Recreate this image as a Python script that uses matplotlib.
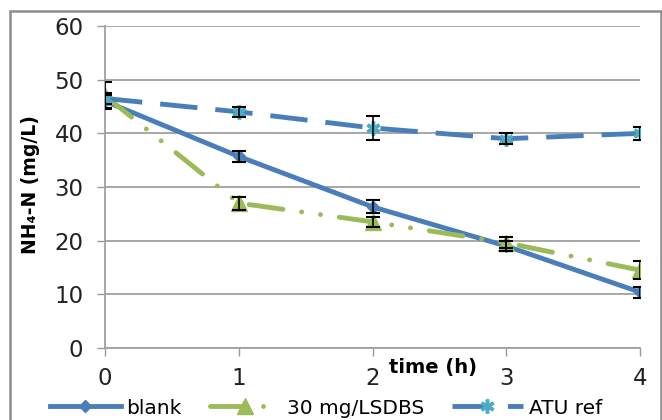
import matplotlib.pyplot as plt
from matplotlib.patches import Rectangle

# data
time_h = [0, 1, 2, 3, 4]

blank = [46.0, 35.7, 26.3, 19.0, 10.4]
blank_err = [1.2, 1.0, 1.2, 1.0, 1.0]

lsdbs = [47.0, 27.0, 23.5, 19.6, 14.5]
lsdbs_err = [2.5, 1.2, 1.0, 1.0, 1.7]

atu = [46.5, 44.0, 41.0, 39.0, 40.0]
atu_err = [1.0, 1.0, 2.3, 1.0, 1.2]

series_labels = ["blank", "30 mg/LSDBS", "ATU ref"]

plt.rcParams['font.family'] = ['DejaVu Sans']

fig = plt.figure(figsize=(6.62, 4.2), dpi=100)
ax = fig.add_axes([105 / 662, 1 - 348 / 420, 535 / 662, 322 / 420])

blue = '#4A7EBB'
green = '#9BBB59'
cyan = '#4BACC6'
lw = 3.5

ax.plot(time_h, blank, color=blue, lw=lw, marker='D', ms=6,
        mfc=blue, mec=blue, label=series_labels[0], zorder=3)
ax.plot(time_h, lsdbs, color=green, lw=lw, marker='^', ms=11,
        mfc=green, mec=green, dashes=(7, 3.9, 0.01, 3.9, 0.01, 3.9),
        dash_capstyle='round', label=series_labels[1], zorder=3)
ax.plot(time_h, atu, color=blue, lw=lw, marker=(6, 2, 0), ms=10,
        mfc=cyan, mec=cyan, mew=2.5, dashes=(7.7, 3.7), label=series_labels[2], zorder=3)

for vals, errs in [(blank, blank_err), (lsdbs, lsdbs_err), (atu, atu_err)]:
    ax.errorbar(time_h, vals, yerr=errs, fmt='none', ecolor='black',
                elinewidth=1.2, capsize=4.8, capthick=1.5, zorder=4)

ax.set_xlim(0, 4)
ax.set_ylim(0, 60)
ax.set_xticks(time_h)
ax.set_yticks(range(0, 61, 10))
ax.tick_params(axis='both', labelsize=16.5, labelcolor='#222222',
               color='#999999', length=5.5, width=1)
ax.tick_params(axis='x', pad=8)
ax.tick_params(axis='y', pad=10)
ax.grid(axis='y', color='#a0a0a0', lw=1.3)
ax.set_axisbelow(True)
for s in ['top', 'right']:
    ax.spines[s].set_visible(False)
for s in ['left', 'bottom']:
    ax.spines[s].set_color('#a0a0a0')
    ax.spines[s].set_linewidth(1.3)

fig.text(30 / 662, 1 - 185 / 420, "NH₄-N (mg/L)", rotation=90, fontsize=13.5,
         fontweight='bold', ha='center', va='center')
fig.text(433 / 662, 1 - 367 / 420, "time (h)", fontsize=14,
         fontweight='bold', ha='center', va='center')

handles, labels = ax.get_legend_handles_labels()
fig.legend(handles, labels, loc='center', bbox_to_anchor=(326 / 662, 1 - 408 / 420),
           ncol=3, frameon=False, fontsize=14.5, handlelength=3.5,
           columnspacing=1.4, handletextpad=0.3, borderpad=0, borderaxespad=0)

fig.patches.append(Rectangle((10 / 662, -0.1), 651 / 662, 1.1 - 11 / 420,
                             transform=fig.transFigure, fill=False,
                             edgecolor='#8c8c8c', lw=1.8))

fig.savefig("out.png", dpi=100)
